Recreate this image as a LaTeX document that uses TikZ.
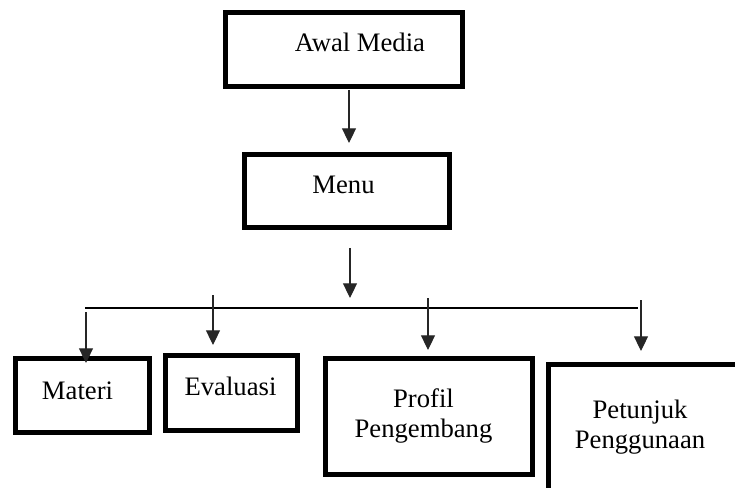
\documentclass[tikz,border=0pt]{standalone}
\usepackage{fontspec}
\setmainfont{Liberation Serif}
\usetikzlibrary{arrows.meta}
\begin{document}
\begin{tikzpicture}[x=0.75pt,y=-0.75pt,
  box/.style={draw=black,line width=4.2pt,rectangle,inner sep=0pt},
  lbl/.style={font=\fontsize{20}{22.5}\selectfont,inner sep=0pt,anchor=base},
  arr/.style={draw=black!85,line width=0.8pt,-{Triangle[width=10.5pt,length=11pt]}},
  bus/.style={draw=black,line width=0.8pt}]
\useasboundingbox (0,0) rectangle (735,488);
\clip (0,0) rectangle (735,488);

% boxes
\node[box,minimum width=237*0.75pt,minimum height=74*0.75pt] (awal) at (344,49.5) {};
\node[box,minimum width=205*0.75pt,minimum height=73*0.75pt] (menu) at (347,191) {};
\node[box,minimum width=134*0.75pt,minimum height=74*0.75pt] (materi) at (82.5,395.5) {};
\node[box,minimum width=132*0.75pt,minimum height=75*0.75pt] (evaluasi) at (231.5,393) {};
\node[box,minimum width=207*0.75pt,minimum height=116*0.75pt] (profil) at (429,416.5) {};
\node[box,minimum width=200*0.75pt,minimum height=140*0.75pt] (petunjuk) at (648.5,434.5) {};

% labels (the base anchor of a two-line label sits on its last line)
\node[lbl] (awal-t) at (360,52) {Awal Media};
\node[lbl] (menu-t) at (343.5,194) {Menu};
\node[lbl] (materi-t) at (77.5,399) {Materi};
\node[lbl] (evaluasi-t) at (230.5,395) {Evaluasi};
\node[lbl,align=center] (profil-t) at (423.5,437) {Profil\\Pengembang};
\node[lbl,align=center] (petunjuk-t) at (640,448) {Petunjuk\\Penggunaan};

% connector end points
\coordinate (a1s) at (349,90);
\coordinate (a1e) at (349,143);
\coordinate (a2s) at (350,248);
\coordinate (a2e) at (350,298);
\coordinate (busL) at (85,308);
\coordinate (busR) at (638,308);
\coordinate (m1s) at (86,312);
\coordinate (m1e) at (86,363);
\coordinate (e1s) at (213,295);
\coordinate (e1e) at (213,345);
\coordinate (p1s) at (428,298);
\coordinate (p1e) at (428,350);
\coordinate (u1s) at (641,300);
\coordinate (u1e) at (641,351);

% connectors
\draw[arr] (a1s) -- (a1e);
\draw[arr] (a2s) -- (a2e);
\draw[bus] (busL) -- (busR);
\draw[arr] (m1s) -- (m1e);
\draw[arr] (e1s) -- (e1e);
\draw[arr] (p1s) -- (p1e);
\draw[arr] (u1s) -- (u1e);
\end{tikzpicture}
\end{document}
